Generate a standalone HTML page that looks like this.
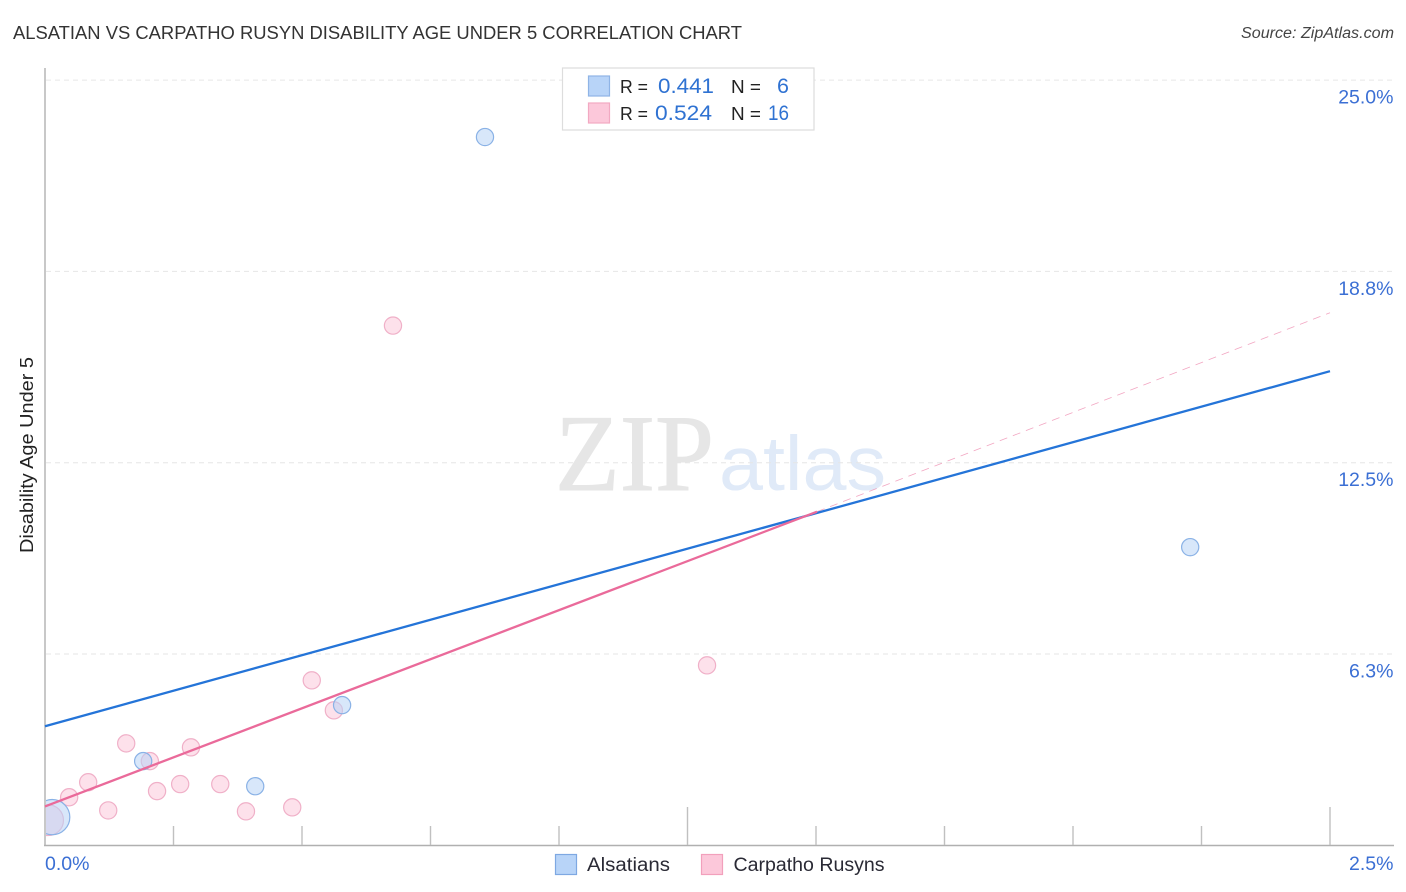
<!DOCTYPE html>
<html lang="en">
<head>
<meta charset="utf-8">
<title>Alsatian vs Carpatho Rusyn Disability Age Under 5 Correlation Chart</title>
<style>
html,body{margin:0;padding:0;background:#fff;width:1406px;height:892px;overflow:hidden}
svg{display:block;font-family:"Liberation Sans",sans-serif}
</style>
</head>
<body>
<svg id="chart" xmlns="http://www.w3.org/2000/svg" width="1406" height="892" viewBox="0 0 1406 892">
  <defs>
    <clipPath id="plot-clip"><rect x="46" y="60" width="1350" height="785"></rect></clipPath>
  </defs>
  <rect width="1406" height="892" fill="#ffffff"></rect>
  <text x="13" y="39" font-size="18.5" fill="#333333" textLength="729" lengthAdjust="spacingAndGlyphs">ALSATIAN VS CARPATHO RUSYN DISABILITY AGE UNDER 5 CORRELATION CHART</text>
  <text x="1241" y="38" font-size="15.5" font-style="italic" fill="#444444" textLength="153" lengthAdjust="spacingAndGlyphs">Source: ZipAtlas.com</text>

  <g>
    <text x="555" y="490" font-family="'Liberation Serif',serif" font-size="109" fill="#e6e6e6" stroke="#e6e6e6" stroke-width="1" textLength="159" lengthAdjust="spacingAndGlyphs">ZIP</text>
    <text x="719" y="490" font-size="77" fill="#e0eaf8" textLength="167" lengthAdjust="spacingAndGlyphs">atlas</text>
  </g>

  <g id="grid"></g>
  <g id="axes"></g>
  <g id="marks" clip-path="url(#plot-clip)"></g>
  <g id="trends"></g>

  <g>
    <rect x="562.5" y="68" width="251.5" height="62" fill="#ffffff" stroke="#dddddd" stroke-width="1.2"></rect>
    <rect x="588.5" y="76" width="21" height="20" fill="#b8d4f8" stroke="#8fb4e6" stroke-width="1.2"></rect>
    <rect x="588.5" y="103" width="21" height="20" fill="#fcc8da" stroke="#f2a9c2" stroke-width="1.2"></rect>
    <text x="620" y="93" font-size="18.5" fill="#222222" textLength="28" lengthAdjust="spacingAndGlyphs">R =</text>
    <text x="658" y="93" font-size="21.5" fill="#2f72d2" textLength="56" lengthAdjust="spacingAndGlyphs">0.441</text>
    <text x="731" y="93" font-size="18.5" fill="#222222" textLength="30" lengthAdjust="spacingAndGlyphs">N =</text>
    <text x="789" y="93" font-size="21.5" fill="#2f72d2" text-anchor="end">6</text>
    <text x="620" y="120" font-size="18.5" fill="#222222" textLength="28" lengthAdjust="spacingAndGlyphs">R =</text>
    <text x="655" y="120" font-size="21.5" fill="#2f72d2" textLength="57" lengthAdjust="spacingAndGlyphs">0.524</text>
    <text x="731" y="120" font-size="18.5" fill="#222222" textLength="30" lengthAdjust="spacingAndGlyphs">N =</text>
    <text x="768" y="120" font-size="21.5" fill="#2f72d2" textLength="21" lengthAdjust="spacingAndGlyphs">16</text>
  </g>

  <text transform="translate(33,455) rotate(-90)" font-size="18" fill="#222222" text-anchor="middle" textLength="196" lengthAdjust="spacingAndGlyphs">Disability Age Under 5</text>

  <g>
    <g>
      <rect x="555.5" y="854.5" width="21" height="20" fill="#b8d4f8" stroke="#7ea8e2" stroke-width="1.2"></rect>
      <text x="587" y="871" font-size="19" fill="#2a2a35" textLength="83" lengthAdjust="spacingAndGlyphs">Alsatians</text>
    </g>
    <g>
      <rect x="701.5" y="854.5" width="21" height="20" fill="#fcc8da" stroke="#f2a0bc" stroke-width="1.2"></rect>
      <text x="733.5" y="871" font-size="19" fill="#2a2a35" textLength="151" lengthAdjust="spacingAndGlyphs">Carpatho Rusyns</text>
    </g>
  </g>
</svg>
<script>
// Chart data (x and y in percent)
const xTickValues = [0, 0.25, 0.5, 0.75, 1, 1.25, 1.5, 1.75, 2, 2.25, 2.5];
const xMajorTicks = [0, 1.25, 2.5];
const xEndValues = [0, 2.5];
const xEndLabels = ["0.0%", "2.5%"];
const yTickValues = [25, 18.75, 12.5, 6.25];
const yTickLabels = ["25.0%", "18.8%", "12.5%", "6.3%"];

const alsatiansX = [0.856, 2.228, 0.578, 0.191, 0.409, 0.014];
const alsatiansY = [23.14, 9.74, 4.58, 2.75, 1.93, 0.92];
const alsatiansWeight = [1, 1, 1, 1, 1, 4.2];

const rusynsX = [0.677, 1.288, 0.519, 0.562, 0.158, 0.284, 0.204, 0.084, 0.263, 0.341, 0.218, 0.047, 0.123, 0.481, 0.391, 0.006];
const rusynsY = [16.98, 5.88, 5.39, 4.41, 3.33, 3.2, 2.75, 2.06, 2.0, 2.0, 1.77, 1.57, 1.14, 1.24, 1.11, 0.82];
const rusynsWeight = [1, 1, 1, 1, 1, 1, 1, 1, 1, 1, 1, 1, 1, 1, 1, 3.2];

// Trend endpoints
const alsatiansTrendX = [0, 2.5];
const alsatiansTrendY = [3.89, 15.49];
const rusynsTrendX = [0, 1.502];
const rusynsTrendY = [1.27, 10.9];
const rusynsDashedX = [1.502, 2.5];
const rusynsDashedY = [10.9, 17.4];

// Axis functions
function xScale(v) { return 45 + (v / 2.5) * 1285; }
function yScale(v) { return 845.3 - (v / 6.25) * 191.3; }
function radius(w) { return 8.6 * Math.sqrt(w); }

const NS = 'http://www.w3.org/2000/svg';
function make(tag, attrs, parent) {
  const el = document.createElementNS(NS, tag);
  for (const k in attrs) el.setAttribute(k, attrs[k]);
  parent.appendChild(el);
  return el;
}

const grid = document.getElementById('grid');
const axes = document.getElementById('axes');
const marks = document.getElementById('marks');
const trends = document.getElementById('trends');

yTickValues.forEach(function (v, i) {
  const line = make('line', { x1: 46, x2: 1393, y1: yScale(v), y2: yScale(v), stroke: '#e6e6e6', 'stroke-width': 1, 'stroke-dasharray': '5 4' }, grid);
  
  
  const label = make('text', { x: 1393.5, y: yScale(v) + 23.5, 'font-size': 19.5, fill: '#3b6fd4', 'text-anchor': 'end' }, axes);
  
  
  label.textContent = yTickLabels[i];
});

const yAxisLine = make('line', { x1: 45, x2: 45, y1: 68, y2: 846, stroke: '#b0b0b0', 'stroke-width': 1.4 }, axes);



const xAxisLine = make('line', { x1: 44, x2: 1394, y1: 845.5, y2: 845.5, stroke: '#b0b0b0', 'stroke-width': 1.4 }, axes);



xTickValues.forEach(function (v) {
  if (v === 0) return;
  const top = xMajorTicks.indexOf(v) >= 0 ? 807 : 826;
  const tick = make('line', { x1: xScale(v), x2: xScale(v), y1: top, y2: 845, stroke: '#c0c0c0', 'stroke-width': 1.4 }, axes);
  
  
});

xEndValues.forEach(function (v, i) {
  const first = i === 0;
  const label = make('text', { x: first ? xScale(v) : 1393.5, y: 870, 'font-size': 19.5, fill: '#3b6fd4', 'text-anchor': first ? 'start' : 'end' }, axes);
  
  
  label.textContent = xEndLabels[i];
});

rusynsX.forEach(function (v, i) {
  const dot = make('circle', { cx: xScale(v), cy: yScale(rusynsY[i]), r: radius(rusynsWeight[i]), fill: '#fbc4d8', 'fill-opacity': 0.5, stroke: '#f0b0c8', 'stroke-width': 1.2 }, marks);
  
  
});

alsatiansX.forEach(function (v, i) {
  const dot = make('circle', { cx: xScale(v), cy: yScale(alsatiansY[i]), r: radius(alsatiansWeight[i]), fill: '#b8d4f6', 'fill-opacity': 0.55, stroke: '#8ab2e6', 'stroke-width': 1.2 }, marks);
  
  
});

const dashedTrend = make('line', { x1: xScale(rusynsDashedX[0]), y1: yScale(rusynsDashedY[0]), x2: xScale(rusynsDashedX[1]), y2: yScale(rusynsDashedY[1]), stroke: '#ea6a9a', 'stroke-width': 0.8, 'stroke-dasharray': '8 6', 'stroke-opacity': 0.6 }, trends);



const blueTrend = make('line', { x1: xScale(alsatiansTrendX[0]), y1: yScale(alsatiansTrendY[0]), x2: xScale(alsatiansTrendX[1]), y2: yScale(alsatiansTrendY[1]), stroke: '#2474d8', 'stroke-width': 2.3 }, trends);



const pinkTrend = make('line', { x1: xScale(rusynsTrendX[0]), y1: yScale(rusynsTrendY[0]), x2: xScale(rusynsTrendX[1]), y2: yScale(rusynsTrendY[1]), stroke: '#ea6a9a', 'stroke-width': 2.3 }, trends);


</script>
</body>
</html>
